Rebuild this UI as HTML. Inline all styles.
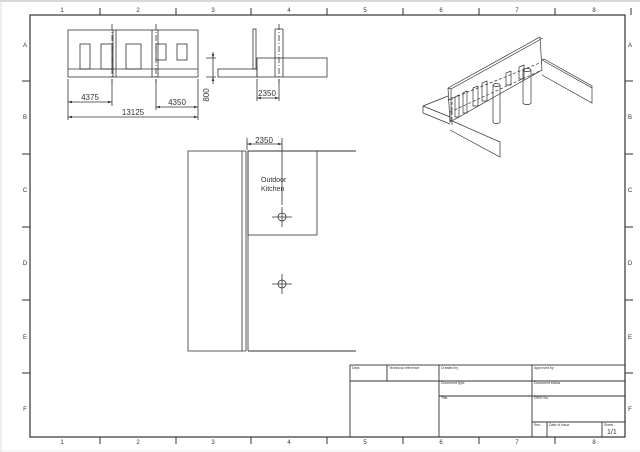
<!DOCTYPE html>
<html><head><style>
html,body{margin:0;padding:0;background:#fff;}
svg{display:block;font-family:"Liberation Sans",sans-serif;}
</style></head><body>
<svg width="640" height="452" viewBox="0 0 640 452" xmlns="http://www.w3.org/2000/svg">
<rect x="0" y="0" width="640" height="452" fill="#fff"/>
<line x1="0" y1="1" x2="640" y2="1" stroke="#ccc" stroke-width="1.5"/>
<line x1="1" y1="0" x2="1" y2="452" stroke="#ddd" stroke-width="1"/>
<line x1="0" y1="451" x2="640" y2="451" stroke="#eee" stroke-width="1"/>
<g stroke="#333" fill="none">
<rect x="30" y="15" width="595" height="422" stroke-width="1.2"/>
<g stroke-width="1">
<path d="M100 8V15M176 8V15M251 8V15M327 8V15M403 8V15M479 8V15M555 8V15M631 8V15"/>
<path d="M100 437V444M176 437V444M251 437V444M327 437V444M403 437V444M479 437V444M555 437V444"/>
<path d="M22 81H30M22 154H30M22 227H30M22 300H30M22 373H30"/>
<path d="M625 81H633M625 154H633M625 227H633M625 300H633M625 373H633"/>
</g>
</g>
<g font-size="6" fill="#333" text-anchor="middle">
<text x="62" y="12">1</text><text x="138" y="12">2</text><text x="213" y="12">3</text><text x="289" y="12">4</text><text x="365" y="12">5</text><text x="441" y="12">6</text><text x="517" y="12">7</text><text x="594" y="12">8</text>
<text x="62" y="444">1</text><text x="138" y="444">2</text><text x="213" y="444">3</text><text x="289" y="444">4</text><text x="365" y="444">5</text><text x="441" y="444">6</text><text x="517" y="444">7</text><text x="594" y="444">8</text>
<text x="25" y="47">A</text><text x="25" y="119">B</text><text x="25" y="192">C</text><text x="25" y="265">D</text><text x="25" y="339">E</text><text x="25" y="411">F</text>
<text x="630" y="47">A</text><text x="630" y="119">B</text><text x="630" y="192">C</text><text x="630" y="265">D</text><text x="630" y="339">E</text><text x="630" y="411">F</text>
</g>
<!-- title block -->
<g stroke="#333" fill="none" stroke-width="0.9">
<rect x="350" y="365" width="275" height="72"/>
<path d="M350 381H625M439 396H625M532 422H625M387 365V381M439 365V437M532 365V437M547 422V437M602 422V437"/>
</g>
<g font-size="3.5" fill="#333">
<text x="352" y="369">Dept.</text><text x="389" y="369">Technical reference</text>
<text x="441" y="369">Created by</text><text x="534" y="369">Approved by</text>
<text x="441" y="384">Document type</text><text x="534" y="384">Document status</text>
<text x="441" y="399">Title</text><text x="534" y="399">DWG No.</text>
<text x="534" y="426">Rev.</text><text x="549" y="426">Date of issue</text><text x="604" y="426">Sheet</text>
</g>
<text x="607" y="434" font-size="7" fill="#333">1/1</text>
<!-- front elevation -->
<g stroke="#333" fill="none" stroke-width="0.8">
<rect x="68" y="30" width="130" height="47"/>
<path d="M68 69H198M113 30V77M116 30V77M152 30V77M158 30V77"/>
<rect x="80" y="44" width="10" height="25"/><rect x="101" y="44" width="11" height="25"/>
<rect x="126" y="44" width="15" height="25"/><rect x="156" y="44" width="10" height="16"/><rect x="177" y="44" width="10" height="16"/>
<path d="M112 24V83M156 24V83" stroke-dasharray="6 2 1 2"/>
<path d="M68 79V120M112 79V106M156 79V110M198 79V120"/>
<path d="M68 102H112M156 107H198M68 117H198"/>
<path d="M206 58H216M206 77H216M213 52V84"/>
<!-- side view -->
<rect x="218" y="69" width="39" height="8"/>
<rect x="253" y="29" width="3" height="40"/>
<rect x="257" y="58" width="70" height="19"/>
<path d="M275 29V77M283 29V77M275 29H283"/>
<path d="M279 24V83" stroke-dasharray="6 2 1 2"/>
<path d="M257 79V101M279 79V101M257 98H279"/>
</g>
<g fill="#333">
<path d="M68 102l4-1.3v2.6zM112 102l-4-1.3v2.6zM156 107l4-1.3v2.6zM198 107l-4-1.3v2.6zM68 117l4-1.3v2.6zM198 117l-4-1.3v2.6zM257 98l4-1.3v2.6zM279 98l-4-1.3v2.6zM213 58l-1.3-4h2.6zM213 77l-1.3 4h2.6z"/>
</g>
<g font-size="8" fill="#333" text-anchor="middle">
<text x="90" y="100">4375</text><text x="177" y="105">4350</text><text x="133" y="115">13125</text><text x="267" y="96">2350</text>
<text x="0" y="0" transform="translate(209,95) rotate(-90)">800</text>
</g>
<!-- isometric -->
<g stroke="#333" fill="none" stroke-width="0.7">
<path d="M448 88L540 37L542 70L450 122Z"/>
<path d="M451 89L451 122M448 88L451 89L543 38"/>
<path d="M423 106L448 96M423 106V113L450 124M423 106L450 117"/>
<path d="M450 120L500 142V157L450 130"/>
<path d="M542 60L592 88V103L542 75M542 60L544 59L592 86V88"/>
<path d="M448 100L542 62" stroke-dasharray="3 2"/>
<path d="M450 112L542 70" stroke-dasharray="3 2"/>
<path d="M452 97V125" stroke-dasharray="3 2"/>
<path d="M455 97V117H459V95ZM463 93V113H467V91ZM473 88V106H478V86ZM482 83V101H487V81ZM506 73V85H511V71ZM519 67V79H524V65Z"/>
<path d="M493 85V122M500 85V122"/>
<ellipse cx="496.5" cy="85" rx="3.5" ry="1.5"/><path d="M493 122a3.5 1.5 0 0 0 7 0"/>
<path d="M523 70V103M531 70V103"/>
<ellipse cx="527" cy="70" rx="4" ry="1.5"/><path d="M523 103a4 1.5 0 0 0 8 0"/>
</g>
<!-- plan -->
<g stroke="#333" fill="none" stroke-width="0.8">
<rect x="188" y="151" width="54" height="200"/>
<path d="M246 151V351M248 151V351M242 151H246M242 351H246"/>
<path d="M248 151H356M248 351H356" stroke-width="1"/>
<rect x="248" y="151" width="69" height="84"/>
<path d="M247 138V150M282 138V205M247 144H282"/>
<circle cx="282" cy="217" r="4"/><path d="M272 217H292M282 207V227"/>
<circle cx="282" cy="284" r="4"/><path d="M272 284H292M282 274V294"/>
</g>
<g fill="#333"><path d="M247 144l4-1.3v2.6zM282 144l-4-1.3v2.6z"/></g>
<text x="264" y="143" font-size="8" fill="#333" text-anchor="middle">2350</text>
<text x="261" y="182" font-size="7" fill="#333">Outdoor</text>
<text x="261" y="191" font-size="7" fill="#333">Kitchen</text>
</svg>
</body></html>
